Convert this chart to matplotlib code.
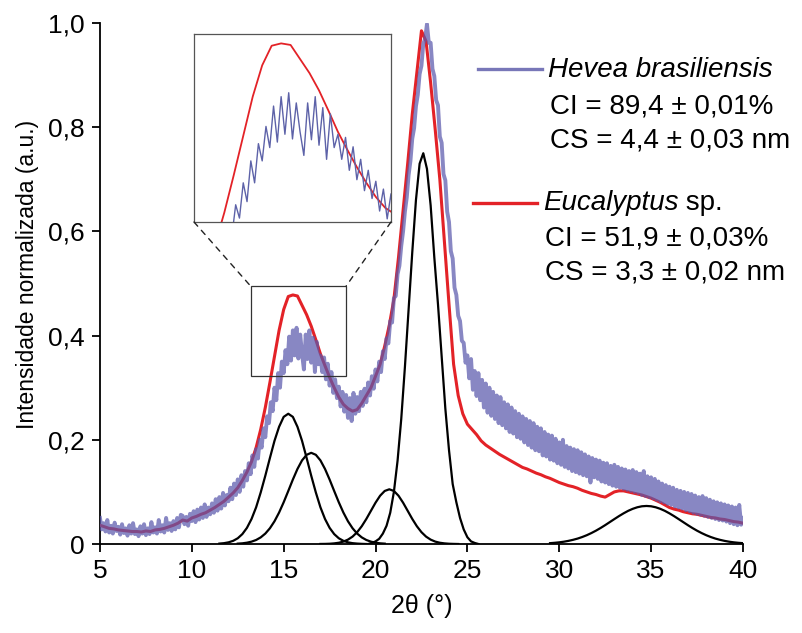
import numpy as np
import matplotlib
matplotlib.use("Agg")
import matplotlib.pyplot as plt
from matplotlib.patches import Rectangle, ConnectionPatch
from matplotlib.lines import Line2D

plt.rcParams['font.family'] = ['Liberation Sans', 'DejaVu Sans']

# ---------------- data ----------------
# Eucalyptus sp. : 2theta from 5 to 40 step 0.25
red_start, red_end = 5.0, 40.0
red_y = [
    0.036, 0.033, 0.030, 0.029,
    0.027, 0.026, 0.025, 0.024,
    0.024, 0.023, 0.025, 0.024,
    0.027, 0.028, 0.030, 0.033,
    0.036, 0.040, 0.046, 0.044,
    0.050, 0.053, 0.057, 0.060,
    0.065, 0.070, 0.076, 0.082,
    0.090, 0.098, 0.108, 0.122,
    0.138, 0.158, 0.185, 0.220,
    0.262, 0.310, 0.360, 0.410,
    0.450, 0.475, 0.478, 0.476,
    0.458, 0.440, 0.418, 0.392,
    0.365, 0.342, 0.320, 0.300,
    0.282, 0.268, 0.260, 0.255,
    0.258, 0.270, 0.285, 0.300,
    0.322, 0.345, 0.380, 0.420,
    0.470, 0.550, 0.640, 0.730,
    0.825, 0.905, 0.985, 0.965,
    0.885, 0.795, 0.700, 0.580,
    0.460, 0.345, 0.285, 0.250,
    0.230, 0.220, 0.210, 0.198,
    0.190, 0.184, 0.178, 0.172,
    0.167, 0.162, 0.157, 0.152,
    0.147, 0.144, 0.140, 0.136,
    0.133, 0.129, 0.126, 0.122,
    0.118, 0.115, 0.112, 0.110,
    0.107, 0.103, 0.100, 0.097,
    0.095, 0.092, 0.090, 0.095,
    0.100, 0.102, 0.102, 0.100,
    0.098, 0.096, 0.094, 0.091,
    0.088, 0.084, 0.080, 0.075,
    0.070, 0.067, 0.065, 0.062,
    0.060, 0.058, 0.057, 0.055,
    0.053, 0.051, 0.050, 0.048,
    0.047, 0.045, 0.043, 0.042,
    0.040,
]

# Hevea brasiliensis : 2theta from 5 to 40 step 0.1
blue_start, blue_end = 5.0, 40.0
blue_y = [
    0.050, 0.028, 0.040, 0.024, 0.046, 0.022, 0.035, 0.020, 0.041, 0.025,
    0.033, 0.018, 0.038, 0.021, 0.030, 0.016, 0.036, 0.020, 0.040, 0.019,
    0.028, 0.015, 0.034, 0.020, 0.038, 0.017, 0.030, 0.019, 0.042, 0.022,
    0.032, 0.020, 0.046, 0.024, 0.036, 0.022, 0.050, 0.027, 0.040, 0.025,
    0.044, 0.028, 0.050, 0.032, 0.056, 0.054, 0.038, 0.052, 0.035, 0.058,
    0.044, 0.063, 0.042, 0.066, 0.047, 0.070, 0.050, 0.076, 0.052, 0.070,
    0.057, 0.078, 0.060, 0.086, 0.064, 0.090, 0.068, 0.098, 0.074, 0.094,
    0.082, 0.108, 0.086, 0.116, 0.094, 0.124, 0.100, 0.132, 0.110, 0.140,
    0.122, 0.155, 0.134, 0.170, 0.148, 0.182, 0.164, 0.200, 0.185, 0.222,
    0.205, 0.245, 0.232, 0.272, 0.255, 0.300, 0.276, 0.328, 0.300, 0.350,
    0.328, 0.372, 0.345, 0.398, 0.352, 0.410, 0.362, 0.415, 0.356, 0.402,
    0.365, 0.335, 0.402, 0.355, 0.410, 0.348, 0.396, 0.330, 0.388, 0.345,
    0.362, 0.330, 0.358, 0.316, 0.346, 0.304, 0.330, 0.290, 0.316, 0.280,
    0.302, 0.264, 0.292, 0.254, 0.286, 0.242, 0.280, 0.236, 0.290, 0.250,
    0.282, 0.255, 0.292, 0.265, 0.298, 0.272, 0.310, 0.285, 0.322, 0.298,
    0.335, 0.312, 0.350, 0.330, 0.370, 0.355, 0.395, 0.385, 0.428, 0.425,
    0.472, 0.476, 0.518, 0.534, 0.572, 0.600, 0.638, 0.665, 0.708, 0.735,
    0.778, 0.798, 0.840, 0.862, 0.902, 0.918, 0.960, 0.970, 0.998, 0.962,
    0.962, 0.912, 0.898, 0.852, 0.842, 0.782, 0.770, 0.710, 0.698, 0.638,
    0.618, 0.562, 0.548, 0.492, 0.478, 0.438, 0.428, 0.390, 0.386, 0.348,
    0.362, 0.318, 0.355, 0.296, 0.332, 0.284, 0.328, 0.276, 0.315, 0.262,
    0.308, 0.252, 0.300, 0.246, 0.292, 0.240, 0.285, 0.232, 0.282, 0.228,
    0.272, 0.222, 0.268, 0.215, 0.262, 0.212, 0.255, 0.205, 0.250, 0.202,
    0.245, 0.195, 0.240, 0.190, 0.236, 0.185, 0.232, 0.180, 0.225, 0.178,
    0.222, 0.170, 0.215, 0.168, 0.210, 0.162, 0.208, 0.160, 0.202, 0.155,
    0.195, 0.152, 0.200, 0.148, 0.188, 0.145, 0.185, 0.140, 0.182, 0.138,
    0.180, 0.135, 0.176, 0.132, 0.172, 0.130, 0.168, 0.118, 0.165, 0.128,
    0.162, 0.125, 0.160, 0.120, 0.156, 0.118, 0.155, 0.115, 0.150, 0.112,
    0.152, 0.110, 0.148, 0.108, 0.145, 0.106, 0.143, 0.104, 0.140, 0.102,
    0.142, 0.100, 0.138, 0.098, 0.135, 0.094, 0.140, 0.092, 0.130, 0.090,
    0.128, 0.088, 0.125, 0.085, 0.120, 0.082, 0.116, 0.080, 0.113, 0.077,
    0.110, 0.075, 0.108, 0.072, 0.104, 0.070, 0.102, 0.068, 0.100, 0.065,
    0.098, 0.063, 0.096, 0.060, 0.093, 0.058, 0.090, 0.056, 0.092, 0.054,
    0.088, 0.052, 0.085, 0.050, 0.082, 0.048, 0.080, 0.046, 0.078, 0.045,
    0.076, 0.043, 0.074, 0.040, 0.072, 0.038, 0.070, 0.036, 0.075, 0.037,
    0.050,
]

# Deconvolution components (black)
peak1_range = (11.5, 19.5)   # step 0.25
peak1_y = [0.0008, 0.0016, 0.0032, 0.0061, 0.011, 0.019, 0.031, 0.048, 0.0705,
           0.099, 0.131, 0.165, 0.198, 0.225, 0.244, 0.250, 0.244, 0.225, 0.198,
           0.165, 0.131, 0.099, 0.0705, 0.048, 0.031, 0.019, 0.011, 0.0061,
           0.0032, 0.0016, 0.0008, 0.0003, 0.0]
peak2_range = (12.5, 20.5)   # step 0.25
peak2_y = [0.0007, 0.0013, 0.0025, 0.0045, 0.0077, 0.0127, 0.020, 0.0302, 0.0436,
           0.0604, 0.0801, 0.1017, 0.1237, 0.144, 0.1605, 0.1712, 0.175, 0.1712,
           0.1605, 0.144, 0.1237, 0.1017, 0.0801, 0.0604, 0.0436, 0.0302, 0.020,
           0.0127, 0.0077, 0.0045, 0.0025, 0.0013, 0.0007]
peak3_range = (17.0, 24.5)   # step 0.25
peak3_y = [0.0001, 0.0002, 0.0005, 0.0012, 0.0024, 0.0046, 0.0084, 0.0142, 0.0227,
           0.0341, 0.0481, 0.0637, 0.0793, 0.0927, 0.1018, 0.105, 0.1018, 0.0927,
           0.0793, 0.0637, 0.0481, 0.0341, 0.0227, 0.0142, 0.0084, 0.0046, 0.0024,
           0.0012, 0.0005, 0.0002, 0.0]
peak4_range = (19.6, 25.6)   # step 0.2
peak4_y = [0.0, 0.002, 0.005, 0.010, 0.020, 0.035, 0.060, 0.100, 0.160, 0.240,
           0.340, 0.450, 0.560, 0.660, 0.730, 0.750, 0.720, 0.650, 0.550, 0.460,
           0.360, 0.260, 0.180, 0.115, 0.080, 0.050, 0.028, 0.013, 0.005, 0.002,
           0.0]
peak5_range = (29.5, 40.0)   # step 0.25
peak5_y = [0.0016, 0.0023, 0.0032, 0.0044, 0.006, 0.008, 0.0104, 0.0134, 0.0169,
           0.021, 0.0256, 0.0307, 0.0362, 0.042, 0.0478, 0.0535, 0.0588, 0.0636,
           0.0675, 0.0705, 0.0724, 0.073, 0.0724, 0.0705, 0.0675, 0.0636, 0.0588,
           0.0535, 0.0478, 0.042, 0.0362, 0.0307, 0.0256, 0.021, 0.0169, 0.0134,
           0.0104, 0.008, 0.006, 0.0044, 0.0032, 0.0023, 0.0016]

x_ticks = [5, 10, 15, 20, 25, 30, 35, 40]
y_ticks = [0, 0.2, 0.4, 0.6, 0.8, 1.0]
y_ticklabels = ["0", "0,2", "0,4", "0,6", "0,8", "1,0"]

zoom_box = (13.2, 18.4, 0.322, 0.495)   # rectangle drawn on the main plot
inset_view = (13.2, 18.4, 0.25, 0.49)   # range shown in the inset

legend_entries = [
    ("Hevea brasiliensis", "", "CI = 89,4 ± 0,01%", "CS = 4,4 ± 0,03 nm"),
    ("Eucalyptus", " sp.", "CI = 51,9 ± 0,03%", "CS = 3,3 ± 0,02 nm"),
]

RED = "#e32227"
BLUE = "#5b59ad"
BLUE_THIN = "#5d62a8"

# ---------------- figure ----------------
fig = plt.figure(figsize=(8.03, 6.33), dpi=100)
ax = fig.add_axes([0.1245, 0.1406, 0.8007, 0.8231])

x_red = np.linspace(red_start, red_end, len(red_y))
x_blue = np.linspace(blue_start, blue_end, len(blue_y))

peaks = [(peak1_range, peak1_y), (peak2_range, peak2_y), (peak3_range, peak3_y),
         (peak4_range, peak4_y), (peak5_range, peak5_y)]
for (a, b), ys in peaks:
    xs = np.linspace(a, b, len(ys))
    ax.plot(xs, ys, color="black", lw=1.6, zorder=2)

ax.plot(x_red, red_y, color=RED, lw=2.2, zorder=3)
ax.plot(x_blue, blue_y, color=BLUE, lw=2.8, alpha=0.72, zorder=4)

ax.set_xlim(5, 40)
ax.set_ylim(0, 1.0)
ax.set_xticks(x_ticks)
ax.set_xticklabels([str(t) for t in x_ticks])
ax.set_yticks(y_ticks)
ax.set_yticklabels(y_ticklabels)
for s in ("top", "right"):
    ax.spines[s].set_visible(False)
for s in ("left", "bottom"):
    ax.spines[s].set_linewidth(1.3)
ax.tick_params(direction="out", length=6, width=1.3, labelsize=19, pad=5)
ax.set_xlabel("2θ (°)", fontsize=18, labelpad=8)
ax.set_ylabel("Intensidade normalizada (a.u.)", fontsize=16.5, va="center")
ax.yaxis.set_label_coords(-0.113, 0.518)

# zoom rectangle in main axes
x0, x1, y0, y1 = zoom_box
ax.add_patch(Rectangle((x0, y0), x1 - x0, y1 - y0, fill=False,
                       edgecolor="#333333", lw=0.9, zorder=5))

# inset
ix0, ix1, iy0, iy1 = inset_view
axin = fig.add_axes([0.2416, 0.6493, 0.2453, 0.297])
axin.plot(x_red, red_y, color=RED, lw=1.3)
axin.plot(x_blue, blue_y, color=BLUE_THIN, lw=1.0)
axin.set_xlim(ix0, ix1)
axin.set_ylim(iy0, iy1)
axin.set_xticks([])
axin.set_yticks([])
for s in axin.spines.values():
    s.set_edgecolor("#555555")
    s.set_linewidth(0.9)

for (xa, ya), (xb, yb) in [((0, 0), (x0, y1)), ((1, 0), (x1, y1))]:
    con = ConnectionPatch(xyA=(xa, ya), coordsA=axin.transAxes,
                          xyB=(xb, yb), coordsB=ax.transData,
                          linestyle=(0, (4, 4)), color="#222222", lw=1.0)
    fig.add_artist(con)

# legend (custom)
line_specs = [((0.5953, 0.675), 0.891, "#7877b8", 0.6824, [0.8894, 0.831, 0.7788]),
              ((0.589, 0.669), 0.679, RED, 0.676, [0.6793, 0.624, 0.5703])]
fig.canvas.draw()
renderer = fig.canvas.get_renderer()
for (name_it, name_rest, ci, cs), ((lx0, lx1), ly, col, tx, tys) in zip(legend_entries, line_specs):
    fig.add_artist(Line2D([lx0, lx1], [ly, ly], color=col, lw=2.4,
                          transform=fig.transFigure))
    t = fig.text(tx, tys[0], name_it, fontsize=20, style="italic", va="center", ha="left")
    if name_rest:
        bb = t.get_window_extent(renderer=renderer)
        xr = bb.x1 / fig.bbox.width
        fig.text(xr, tys[0], name_rest, fontsize=20, va="center", ha="left")
    fig.text(tx + 0.003, tys[1], ci, fontsize=20, va="center", ha="left")
    fig.text(tx + 0.003, tys[2], cs, fontsize=20, va="center", ha="left")

fig.savefig("out.png", dpi=100)
